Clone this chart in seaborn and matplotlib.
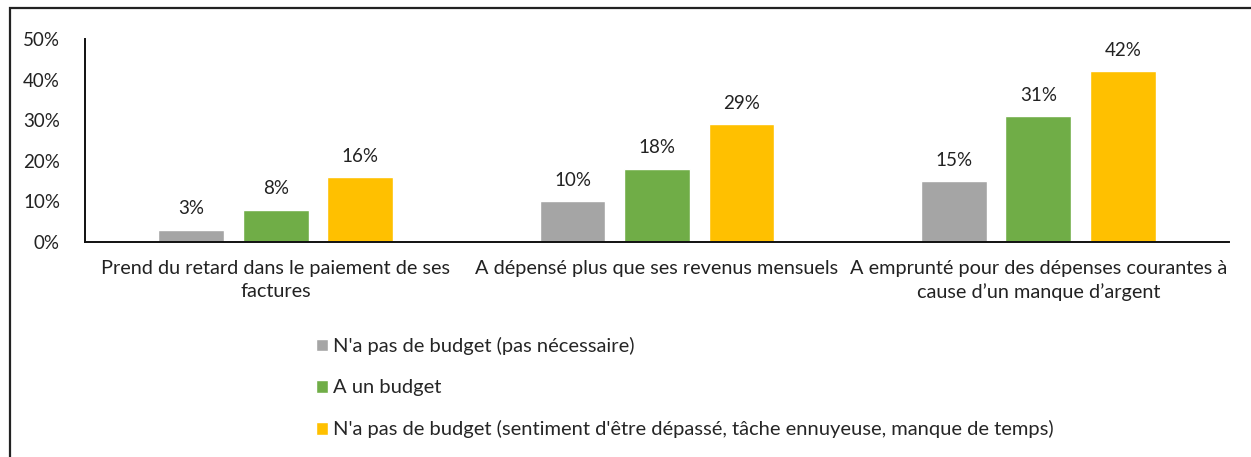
import numpy as np
import pandas as pd
import matplotlib
matplotlib.use("Agg")
import matplotlib.pyplot as plt
import seaborn as sns
from matplotlib.patches import Rectangle
from matplotlib.ticker import FuncFormatter

categories = [
    "Prend du retard dans le paiement de ses\nfactures",
    "A dépensé plus que ses revenus mensuels",
    "A emprunté pour des dépenses courantes à\ncause d\u2019un manque d\u2019argent",
]
groups = [
    "N'a pas de budget (pas nécessaire)",
    "A un budget",
    "N'a pas de budget (sentiment d'être dépassé, tâche ennuyeuse, manque de temps)",
]
no_need = [3, 10, 15]
has_budget = [8, 18, 31]
overwhelmed = [16, 29, 42]
colors = ["#A5A5A5", "#70AD47", "#FFC000"]

rows = []
for g, vals in zip(groups, [no_need, has_budget, overwhelmed]):
    for c, v in zip(categories, vals):
        rows.append({"cat": c, "grp": g, "val": v})
df = pd.DataFrame(rows)

sns.set_style("white")
plt.rcParams["font.family"] = ["Lato", "DejaVu Sans"]

fig = plt.figure(figsize=(12.51, 4.57), dpi=100)
ax = fig.add_axes([85 / 1251, 215 / 457, 1144 / 1251, 203 / 457])

sns.barplot(data=df, x="cat", y="val", hue="grp", palette=colors,
            width=0.665, gap=0.22, ax=ax, saturation=1)

for cont in ax.containers:
    ax.bar_label(cont, fmt="%d%%", padding=9, fontsize=13.5, color="#222222")

ax.set_ylim(0, 50)
ax.set_yticks(range(0, 51, 10))
ax.yaxis.set_major_formatter(FuncFormatter(lambda v, p: f"{int(v)}%"))
ax.set_xlim(-0.5, 2.5)
ax.set_xlabel("")
ax.set_ylabel("")
ax.tick_params(axis="both", length=0, colors="#222222")
ax.tick_params(axis="y", pad=18, labelsize=13.5)
ax.tick_params(axis="x", pad=13, labelsize=14.3)
for t in ax.get_xticklabels():
    t.set_linespacing(1.4)
for s in ["top", "right"]:
    ax.spines[s].set_visible(False)
for s in ["left", "bottom"]:
    ax.spines[s].set_color("#111111")
    ax.spines[s].set_linewidth(1.4)

h, l = ax.get_legend_handles_labels()
ax.legend(h, l, loc="upper left", bbox_to_anchor=(316 / 1251, (457 - 337) / 457),
          bbox_transform=fig.transFigure, frameon=False,
          handlelength=0.6, handleheight=0.6, handletextpad=0.25,
          labelspacing=1.2, fontsize=14.5, borderaxespad=0, borderpad=0)

# outer frame (cut at right and bottom)
fig.patches.append(Rectangle((10 / 1251, -0.1), 1.2, (449 / 457) + 0.1,
                             transform=fig.transFigure, fill=False,
                             edgecolor="#222222", linewidth=1.6))

fig.savefig("out.png", dpi=100)
